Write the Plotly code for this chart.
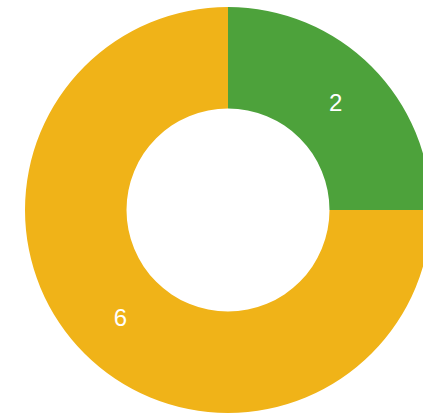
import plotly.graph_objects as go

# Slice data
labels = ["A", "B"]
values = [2, 6]
colors = ["#4da23b", "#f0b318"]

fig = go.Figure(
    go.Pie(
        labels=labels,
        values=values,
        hole=0.5,
        sort=False,
        direction="clockwise",
        rotation=0,
        marker=dict(colors=colors, line=dict(width=0)),
        textinfo="value",
        textposition="inside",
        insidetextorientation="horizontal",
        textfont=dict(color="white", size=24, family="Liberation Sans, Arial, sans-serif"),
        hoverinfo="label+value",
    )
)

fig.update_layout(
    width=436,
    height=417,
    margin=dict(l=25, r=5, t=7, b=4),
    showlegend=False,
    paper_bgcolor="white",
    plot_bgcolor="white",
)

fig.write_html(
    "out.html",
    post_script="document.body.style.overflow='hidden';document.body.style.margin='0';",
)
